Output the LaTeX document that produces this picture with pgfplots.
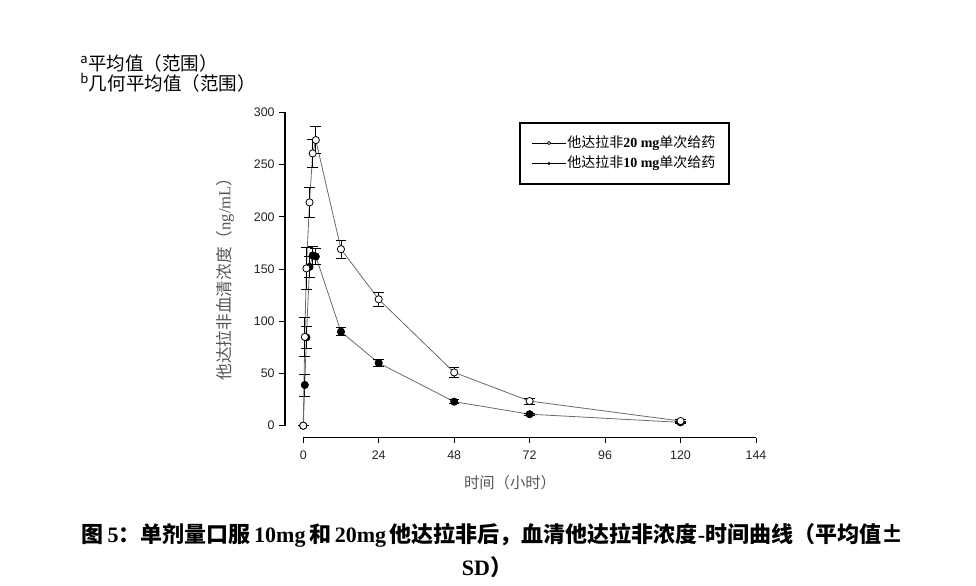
\documentclass[border=0pt]{standalone}
\usepackage{pgfplots}
\pgfplotsset{compat=1.18}
\usepackage{fontspec}
\setmainfont{Liberation Serif}
\newfontfamily\cjk{Noto Sans CJK SC}
\newfontfamily\arial{Liberation Sans}
\definecolor{labgray}{HTML}{555555}
\definecolor{tickgray}{HTML}{222222}
\definecolor{linegray}{HTML}{6A6A6A}
\pgfplotstableread{
t c e
0 0 0
0.5 39 10.5
1 84.5 10.5
2 152 10
3 163 9
4 162 8
12 90 4
24 60 3
48 23 2
72 11 1
120 3.2 1
}\tenmg
\pgfplotstableread{
t c e
0 0 0
0.5 85 19
1 150.6 20
2 213.8 14.6
3 260.7 13.5
4 273.4 13
12 169 8.5
24 121 7
48 51 4.5
72 23.6 3
120 4.5 1.5
}\twentymg
\begin{document}
\begin{tikzpicture}[x=0.75pt,y=-0.75pt]
\path[use as bounding box] (0,0) rectangle (976,586);
\begin{axis}[
  at={(213.75pt,-328.275pt)}, anchor=south west,
  scale only axis, width=353.25pt, height=244.05pt,
  xmin=-5.8, xmax=144, ymin=-11.49, ymax=300,
  axis x line=bottom, axis y line=left,
  axis line style={draw=none},
  clip=false,
  xtick={0,24,48,72,96,120,144}, ytick={0,50,100,150,200,250,300},
  tick align=outside, major tick length=4.3pt,
  tick style={black, line width=0.7pt},
  ticklabel style={font=\arial\fontsize{9.3}{10}\selectfont, text=tickgray},
  xticklabel style={yshift=-2pt},
  /pgf/number format/assume math mode=true,
  error bars/error bar style={black, line width=0.6pt},
  error bars/error mark options={rotate=90, mark size=4pt, black, line width=0.6pt},
]
\draw[black, line width=0.8pt] (axis cs:0,-11.49) -- (axis cs:144,-11.49);
\draw[black, line width=0.8pt] (axis cs:-5.8,0) -- (axis cs:-5.8,300);
\addplot[color=linegray, line width=0.6pt, mark=*, mark size=2.7pt,
  mark options={draw=black, fill=black, line width=0.6pt},
  error bars/.cd, y dir=both, y explicit]
  table[x=t, y=c, y error=e] {\tenmg};
\addplot[color=linegray, line width=0.6pt, mark=*, mark size=2.7pt,
  mark options={draw=black, fill=white, line width=0.6pt},
  error bars/.cd, y dir=both, y explicit]
  table[x=t, y=c, y error=e] {\twentymg};
\end{axis}
% axis labels
\node[rotate=90, text=labgray, font=\fontsize{12.5}{13}\selectfont] at (225,275) {{\cjk 他达拉非血清浓度（}ng/mL{\cjk ）}};
\node[text=labgray, font=\cjk\fontsize{11.5}{12}\selectfont] at (510,483) {时间（小时）};
% legend
\draw[black, line width=0.9pt] (520,123) rectangle (729,184);
\draw[black, line width=0.5pt] (532,143) -- (566,143);
\draw[black, fill=white, line width=0.5pt] (549,143) circle (1.6);
\node[anchor=west, inner sep=0pt, font=\fontsize{10.5}{12}\selectfont] at (567,143) {{\cjk 他达拉非}\textbf{20 mg}{\cjk 单次给药}};
\draw[black, line width=0.5pt] (532,163.5) -- (566,163.5);
\fill[black] (549,163.5) circle (1.6);
\node[anchor=west, inner sep=0pt, font=\fontsize{10.5}{12}\selectfont] at (567,163.5) {{\cjk 他达拉非}\textbf{10 mg}{\cjk 单次给药}};
% top-left notes
\node[anchor=west, inner sep=0pt, font=\cjk\fontsize{13.9}{15}\selectfont] at (80,63) {\textsuperscript{a}平均值（范围）};
\node[anchor=west, inner sep=0pt, font=\cjk\fontsize{13.9}{15}\selectfont] at (80,83) {\textsuperscript{b}几何平均值（范围）};
% caption
\node[font=\fontsize{16.5}{18}\selectfont] at (492.5,535) {{\cjk\bfseries 图}\,\textbf{5}{\cjk\bfseries ：单剂量口服}\,\textbf{10mg}\,{\cjk\bfseries 和}\,\textbf{20mg}\,{\cjk\bfseries 他达拉非后，血清他达拉非浓度}\textbf{-}{\cjk\bfseries 时间曲线（平均值±}};
\node[font=\fontsize{16.5}{18}\selectfont] at (487,567) {\textbf{SD}{\cjk\bfseries ）}};
\end{tikzpicture}
\end{document}
